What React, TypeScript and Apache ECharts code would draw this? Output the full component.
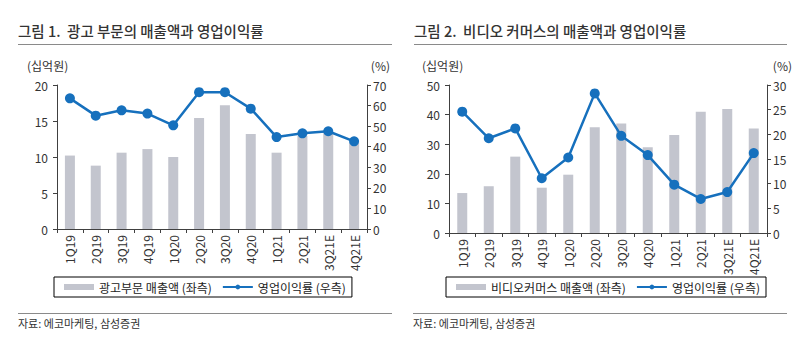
import React, { useEffect, useRef } from "react";
import * as echarts from "echarts";

const categories = ["1Q19", "2Q19", "3Q19", "4Q19", "1Q20", "2Q20", "3Q20", "4Q20", "1Q21", "2Q21", "3Q21E", "4Q21E"];
const adRevenue = [10.2, 8.8, 10.6, 11.1, 10.0, 15.4, 17.2, 13.2, 10.6, 12.9, 13.3, 12.0];
const adMargin = [63.5, 55.1, 57.7, 56.1, 50.4, 66.5, 66.5, 58.5, 44.7, 46.5, 47.5, 42.6];
const vcRevenue = [13.5, 15.8, 25.8, 15.3, 19.7, 35.7, 37.0, 29.0, 33.1, 41.0, 41.9, 35.3];
const vcMargin = [24.6, 19.2, 21.2, 11.1, 15.3, 28.3, 19.7, 15.8, 9.8, 6.9, 8.3, 16.2];

const title1 = "그림 1.  광고 부문의 매출액과 영업이익률";
const title2 = "그림 2.  비디오 커머스의 매출액과 영업이익률";
const bar1Name = "광고부문 매출액 (좌측)";
const bar2Name = "비디오커머스 매출액 (좌측)";
const lineName = "영업이익률 (우측)";
const unitLeft = "(십억원)";
const unitRight = "(%)";
const sourceText = "자료: 에코마케팅, 삼성증권";

const FONT = "'Noto Sans CJK KR', 'Noto Sans', sans-serif";
const BAR = "#c3c5ce";
const LINE = "#1670bd";
const AXIS = "#404040";
const TEXT = "#333333";

export default function App() {
  const ref = useRef<HTMLDivElement>(null);
  useEffect(() => {
    if (!ref.current) return;
    const chart = echarts.init(ref.current, undefined, { renderer: "svg" });

    const xAxisCfg = (gridIndex: number) => ({
      type: "category",
      gridIndex,
      data: categories,
      axisLine: { lineStyle: { color: AXIS, width: 1 } },
      axisTick: { show: true, length: 4, lineStyle: { color: AXIS } },
      axisLabel: { rotate: 90, color: TEXT, fontSize: 12, fontFamily: FONT, margin: 6 },
    });
    const yAxisCfg = (gridIndex: number, max: number, interval: number, position: string, margin: number) => ({
      type: "value",
      gridIndex,
      min: 0,
      max,
      interval,
      position,
      splitLine: { show: false },
      axisLine: { show: true, lineStyle: { color: AXIS, width: 1 } },
      axisTick: { show: true, length: 4, lineStyle: { color: AXIS } },
      axisLabel: { color: TEXT, fontSize: 12, fontFamily: FONT, margin },
    });

    const txt = (x: number, y: number, text: string, size: number, weight: any = "normal", align = "left") => ({
      type: "text",
      x,
      y,
      style: { text, fontSize: size, fontFamily: FONT, fontWeight: weight, fill: TEXT, textAlign: align, textVerticalAlign: "middle" },
    });
    const hline = (x1: number, x2: number, y: number) => ({
      type: "line",
      shape: { x1, y1: y, x2, y2: y },
      style: { stroke: "#8a8a8a", lineWidth: 1 },
    });

    const legendCfg = (left: number, barName: string) => ({
      left,
      top: 277,
      orient: "horizontal",
      borderColor: "#000",
      borderWidth: 1,
      padding: [4, 6, 4, 10],
      itemGap: 10,
      itemWidth: 30,
      itemHeight: 6,
      textStyle: { fontSize: 12, fontFamily: FONT, color: "#222" },
      data: [{ name: barName, icon: "rect" }, { name: lineName }],
    });

    chart.setOption({
      animation: false,
      grid: [
        { left: 57, right: 806 - 367, top: 85, bottom: 352 - 229 },
        { left: 449, right: 806 - 767, top: 85, bottom: 352 - 233 },
      ],
      xAxis: [xAxisCfg(0), xAxisCfg(1)],
      yAxis: [
        yAxisCfg(0, 20, 5, "left", 9),
        yAxisCfg(0, 70, 10, "right", 6),
        yAxisCfg(1, 50, 10, "left", 9),
        yAxisCfg(1, 30, 5, "right", 6),
      ],
      legend: [legendCfg(54, bar1Name), legendCfg(446, bar2Name)],
      series: [
        { name: bar1Name, type: "bar", xAxisIndex: 0, yAxisIndex: 0, data: adRevenue, barWidth: 10, itemStyle: { color: BAR } },
        {
          name: lineName, type: "line", xAxisIndex: 0, yAxisIndex: 1, data: adMargin,
          symbol: "circle", symbolSize: 10, lineStyle: { color: LINE, width: 2.5 }, itemStyle: { color: LINE },
        },
        { name: bar2Name, type: "bar", xAxisIndex: 1, yAxisIndex: 2, data: vcRevenue, barWidth: 10, itemStyle: { color: BAR } },
        {
          name: lineName, type: "line", xAxisIndex: 1, yAxisIndex: 3, data: vcMargin,
          symbol: "circle", symbolSize: 10, lineStyle: { color: LINE, width: 2.5 }, itemStyle: { color: LINE },
        },
      ],
      graphic: [
        txt(18, 30, title1, 14.5, 500),
        txt(414, 30, title2, 14.5, 500),
        hline(18, 392, 44.5),
        hline(414, 787, 44.5),
        txt(27, 65, unitLeft, 12),
        txt(390, 65, unitRight, 12, "normal", "right"),
        txt(422, 65, unitLeft, 12),
        txt(792, 65, unitRight, 12, "normal", "right"),
        hline(18, 392, 313.5),
        hline(413, 787, 313.5),
        txt(18, 323, sourceText, 11),
        txt(413, 323, sourceText, 11),
      ],
    });
    return () => chart.dispose();
  }, []);
  return <div ref={ref} style={{ position: "fixed", left: 0, top: 0, width: 806, height: 352, background: "#fff" }} />;
}
